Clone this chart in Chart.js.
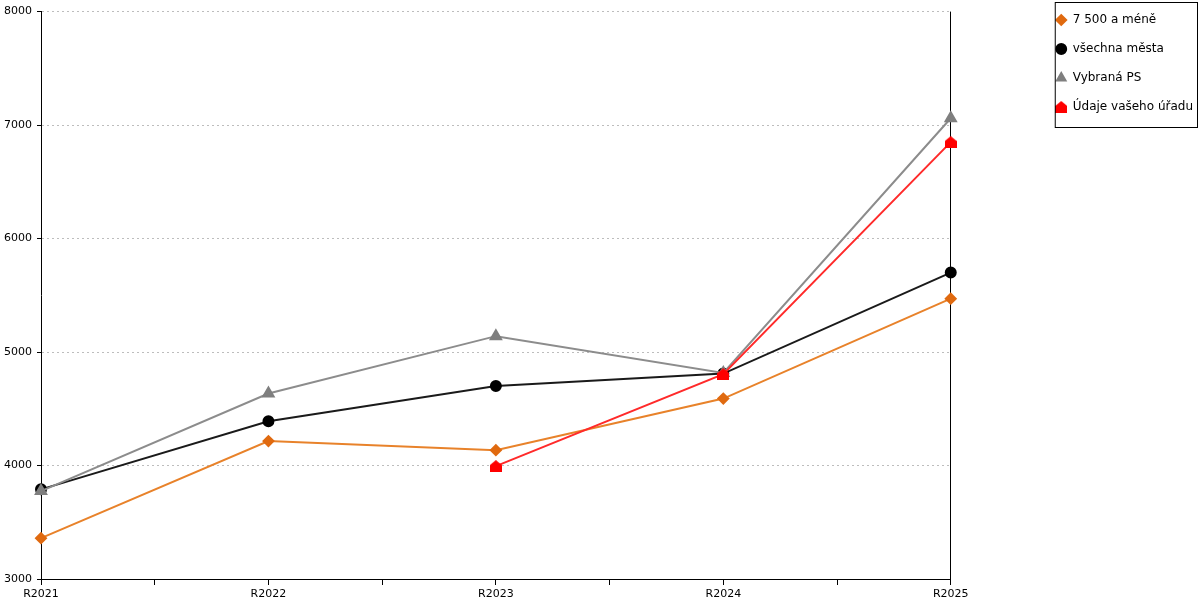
<!DOCTYPE html>
<html lang="cs">
<head>
    <meta charset="UTF-8">
    <title>R2021 - R2025</title>
    <script src="https://cdn.jsdelivr.net/npm/chart.js"></script>
    <style>
        body { margin: 0; background: #fff; }
        .chart-container { width: 1200px; height: 600px; position: relative; }
    </style>
</head>
<body>

<div class="chart-container">
    <canvas id="lineChart"></canvas>
</div>

<script>
    // Data
    const years = ['R2021', 'R2022', 'R2023', 'R2024', 'R2025'];
    const small = [3360, 4215, 4135, 4590, 5470];      // 7 500 a méně
    const allCities = [3790, 4390, 4700, 4810, 5700];  // všechna města
    const selected = [3775, 4635, 5140, 4815, 7060];   // Vybraná PS
    const office = [null, null, 3995, 4805, 6850];     // Údaje vašeho úřadu
    const yTicks = [3000, 4000, 5000, 6000, 7000, 8000];

    Chart.defaults.font.family = 'DejaVu Sans';
    Chart.defaults.font.size = 11;
    Chart.defaults.color = '#000';

    // house shaped marker
    const house = document.createElement('canvas');
    house.width = 12; house.height = 12;
    const hc = house.getContext('2d');
    hc.fillStyle = '#ff0000';
    hc.beginPath();
    hc.moveTo(6, 0); hc.lineTo(12, 5); hc.lineTo(12, 12); hc.lineTo(0, 12); hc.lineTo(0, 5);
    hc.closePath();
    hc.fill();

    const toPoints = arr => arr.map((v, i) => ({x: i, y: v}));

    // move legend up to the top edge and frame it
    const legendBox = {
        id: 'legendBox',
        afterLayout(chart) {
            const lg = chart.legend;
            const dy = lg.top + 3;
            lg.top -= dy;
            lg.bottom -= dy;
        },
        afterDraw(chart) {
            const boxes = chart.legend.legendHitBoxes;
            if (!boxes || !boxes.length) return;
            const ctx = chart.ctx;
            const top = Math.min(...boxes.map(b => b.top)) - 12;
            const bottom = Math.max(...boxes.map(b => b.top + b.height)) + 14;
            const left = Math.min(...boxes.map(b => b.left)) - 1;
            ctx.save();
            ctx.strokeStyle = '#000';
            ctx.lineWidth = 1;
            ctx.strokeRect(left + 0.5, top + 0.5, 1197 - left, bottom - top);
            ctx.restore();
        }
    };

    new Chart(document.getElementById('lineChart'), {
        type: 'line',
        data: {
            datasets: [{
                label: '7 500 a méně',
                data: toPoints(small),
                borderColor: '#e8822a',
                backgroundColor: '#e06a10',
                pointBorderColor: '#e06a10',
                pointStyle: 'rectRot',
                pointRadius: 5,
                borderWidth: 2,
                order: 3
            }, {
                label: 'všechna města',
                data: toPoints(allCities),
                borderColor: '#1a1a1a',
                backgroundColor: '#000',
                pointBorderColor: '#000',
                pointStyle: 'circle',
                pointRadius: 5,
                borderWidth: 2,
                order: 2
            }, {
                label: 'Vybraná PS',
                data: toPoints(selected),
                borderColor: '#8c8c8c',
                backgroundColor: '#7f7f7f',
                pointBorderColor: '#7f7f7f',
                pointStyle: 'triangle',
                pointRadius: 6,
                borderWidth: 2,
                order: 1
            }, {
                label: 'Údaje vašeho úřadu',
                data: toPoints(office),
                borderColor: '#ff2a2a',
                backgroundColor: '#ff0000',
                pointStyle: house,
                borderWidth: 2,
                order: 0
            }]
        },
        options: {
            responsive: true,
            maintainAspectRatio: false,
            animation: false,
            clip: false,
            layout: { padding: { top: 9, right: -3, left: 0, bottom: 0 } },
            elements: { line: { tension: 0 } },
            scales: {
                x: {
                    type: 'linear',
                    min: 0,
                    max: years.length - 1,
                    afterFit: s => { s.height = 21; },
                    ticks: {
                        stepSize: 0.5,
                        padding: 3,
                        maxRotation: 0,
                        autoSkip: false,
                        callback: v => Number.isInteger(v) ? years[v] : ''
                    },
                    grid: {
                        color: c => c.tick && c.tick.value === years.length - 1 ? '#000' : 'transparent',
                        tickColor: '#000',
                        tickLength: 6
                    },
                    border: { color: '#000', width: 1 }
                },
                y: {
                    min: 3000,
                    max: 8000,
                    afterBuildTicks: s => { s.ticks = yTicks.map(v => ({value: v})); },
                    afterFit: s => { s.width = 41; },
                    ticks: { padding: 5, callback: v => String(v) },
                    grid: {
                        color: '#bdbdbd',
                        tickColor: '#000',
                        tickLength: 4,
                        tickBorderDash: []
                    },
                    border: { color: '#000', width: 1, dash: [2, 3] }
                },
                gap: {
                    position: 'right',
                    display: true,
                    ticks: { display: false },
                    grid: { display: false },
                    border: { display: false },
                    afterFit: s => { s.width = 88; }
                }
            },
            plugins: {
                tooltip: { enabled: false },
                legend: {
                    position: 'right',
                    align: 'start',
                    labels: {
                        usePointStyle: true,
                        boxWidth: 11,
                        boxHeight: 7,
                        padding: 17,
                        color: '#000',
                        font: { size: 12 },
                        sort: (a, b) => a.datasetIndex - b.datasetIndex
                    }
                }
            }
        },
        plugins: [legendBox]
    });
</script>

</body>
</html>
